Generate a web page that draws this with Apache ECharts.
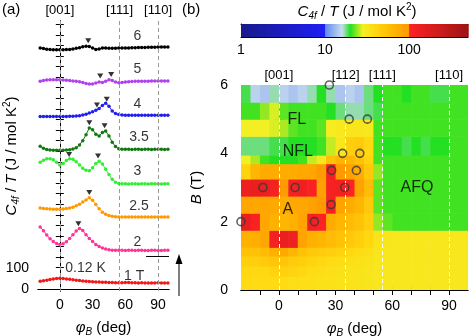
<!DOCTYPE html>
<html>
<head>
<meta charset="utf-8">
<script src="https://cdn.jsdelivr.net/npm/echarts@6/dist/echarts.min.js"></script>
<style>
  html, body { margin: 0; padding: 0; background: #fff; }
  #chart { width: 471px; height: 336px; }
</style>
</head>
<body>
<div id="chart"></div>
<script>
// ---- panel (a): C4f/T vs field angle, curves offset per field ----
const phiA = [-18,-15,-12,-9,-6,-3,0,3,6,9,12,15,18,21,24,27,30,33,36,39,42,45,48,51,54,57,60,63,66,69,72,75,78,81,84,87,90,93,96,99];
const c1T = [36,38,41,44,47,49,50,49,47,45, 43,41,39,37,36,35,34,33,32,31, 31,30,30,29,29,29,30,30,29,29, 28,29,28,28,28,28,29,28,28,28];
const c2T = [292,275,255,237,224,214,209,213,223,238, 256,273,285,276,256,238,224,210,200,193, 188,185,183,182,182,182,181,182,182,181, 182,182,181,181,182,182,181,181,182,182];
const c25T = [382,380,378,377,376,376,376,377,379,382, 386,392,400,410,420,430,418,398,378,362, 352,346,343,341,340,340,340,340,340,339, 339,340,340,339,339,339,340,340,339,339];
const c3T = [598,608,614,615,610,598,585,592,606,614, 612,600,585,570,560,558,572,592,603,590, 565,540,518,504,498,496,496,495,496,496, 495,496,496,495,496,496,496,495,496,496];
const c35T = [673,664,658,656,655,655,655,655,656,657, 660,667,680,700,728,760,752,730,722,738, 745,722,693,672,662,659,659,659,658,659, 659,658,659,659,658,659,659,659,658,659];
const c4T = [814,814,814,814,814,814,814,814,814,815, 815,816,818,821,825,830,836,843,852,866, 877,862,840,828,823,821,820,820,820,820, 820,820,820,820,820,820,820,820,820,820];
const c5T = [980,984,986,988,988,988,987,986,985,984, 982,980,978,975,970,967,968,972,977,975, 980,988,984,977,973,975,977,978,979,980, 980,981,981,981,982,982,982,982,982,982];
const c6T = [1137,1135,1132,1130,1129,1129,1129,1129,1130,1131, 1133,1136,1139,1143,1146,1145,1138,1131,1133,1138, 1137,1136,1136,1136,1137,1137,1138,1138,1139,1139, 1140,1140,1140,1141,1141,1141,1142,1142,1142,1142];
const curves = [c1T, c2T, c25T, c3T, c35T, c4T, c5T, c6T];
const fieldNames = ['1 T', '2', '2.5', '3', '3.5', '4', '5', '6'];
const fieldColors = ['#f01818', '#ff3399', '#ff9900', '#33ee33', '#127812', '#1f1fee', '#b040f0', '#000000'];
const fieldLabelPos = [[68, 62], [71, 223], [72.5, 389], [71, 555], [72.5, 716], [71, 872], [71, 1038], [71, 1194]];
const tempLabel = { text: '0.12 K', pos: [23.5, 100] };
const peakMarks = [[26, 1172], [37, 1005], [47, 1012], [34, 868], [43, 895], [27, 785], [41, 770], [8.5, 635], [35, 628], [27, 455], [17, 308]];
const scaleBar = [[79, 153], [100, 153]];
const dirAnglesA = [0, 54.7, 90];
const dirNamesA = ['[001]', '[111]', '[110]'];
const phiTicks = [0, 30, 60, 90];
const yLabelsA = [0, 100];

// ---- panel (b): colour map of C4f/T in the (phi, B) plane ----
const phiEdges = [-20,-15,-10,-5,0,5,10,15,20,25,30,35,40,45,50,55,60,65,70,75,80,85,90,95,100];
const bEdges = [0, 0.4, 0.7, 1.0, 1.25, 1.75, 2.25, 2.75, 3.25, 3.7, 3.95, 4.5, 5.0, 5.5, 6.0];
const heat = [
  [38,38,38,38,38,37,36,36,35,35,34,34,34,33,32,32,32,32,32,32,32,32,32,32],
  [40,40,40,42,44,42,40,38,37,36,35,34,34,33,32,32,32,32,32,32,32,32,32,32],
  [45,45,48,52,52,48,45,42,40,38,37,36,35,34,32,32,32,32,32,32,32,32,32,32],
  [55,55,60,70,78,65,55,50,48,45,42,40,38,36,33,32,32,32,32,32,32,32,32,32],
  [70,72,80,120,140,130,85,70,65,60,55,50,45,40,34,33,32,32,32,32,32,32,32,32],
  [140,110,80,70,65,70,85,120,100,75,65,60,55,45,24,22,21,21,21,21,21,21,21,21],
  [80,80,80,78,75,78,82,88,95,115,85,75,65,50,22,21,21,21,21,21,21,21,21,21],
  [130,140,135,115,95,115,125,110,90,115,120,100,85,60,22,21,21,21,21,21,21,21,21,21],
  [42,65,75,75,75,75,78,82,95,120,95,85,75,50,24,21,21,21,21,21,21,21,21,21],
  [28,25,21,20,20,20,21,26,32,55,65,65,55,42,21,21,21,21,21,21,21,21,21,21],
  [18,18,18,19,19,20,20,20,21,26,32,45,48,40,21,20,20,19,20,19,20,20,21,21],
  [28,29,28,27,25,22,21,21,22,30,31,33,33,32,21,21,21,21,21,21,21,21,21,21],
  [21,21,24,27,22,21,21,21,21,20,18,17,17,18,19,21,21,21,21,21,21,21,21,21],
  [19,15,14,17,15,14,15,17,20,17,14,15,14,18,20,21,21,20,21,21,19,19,21,21]
];
const transitions = [[26.7, 6], [37.2, 5], [46.8, 5], [33.7, 4], [42.8, 4], [27.9, 3.5], [41, 3.5], [-8.4, 3], [8.6, 3], [34.9, 3], [27.6, 2.5], [-20, 2], [18.8, 2]];
const phaseNames = ['FL', 'NFL', 'A', 'AFQ'];
const phasePos = [[9.5, 5.0], [10, 4.05], [4.7, 2.34], [73, 3.0]];
const dirAnglesB = [0, 35.3, 54.7, 90];
const dirNamesB = ['[001]', '[112]', '[111]', '[110]'];
const bTicks = [0, 2, 4, 6];
const cbLabels = [1, 10, 100];
const cbMinor = [2,3,4,5,6,7,8,9,10,20,30,40,50,60,70,80,90,100,200,300,400];

// colour scale (log10 of C/T -> colour)
const cmapT = [0, 0.999, 1.0, 1.2, 1.3, 1.45, 1.6, 1.85, 1.999, 2.0, 2.7];
const cmapC = ['#1a1a8c', '#1f1ff5', '#5c88f0', '#c8dcee', '#22e022', '#f4f024', '#ffd810', '#ffb000', '#ff9800', '#ff2222', '#9c1616'];

const font = 'Liberation Sans, Arial, sans-serif';

function hexRgb(h) {
  return [parseInt(h.slice(1, 3), 16), parseInt(h.slice(3, 5), 16), parseInt(h.slice(5, 7), 16)];
}
function cmap(v) {
  const t = Math.log10(v);
  let i = 0;
  while (i < cmapT.length - 2 && t > cmapT[i + 1]) i++;
  const f = Math.min(1, Math.max(0, (t - cmapT[i]) / (cmapT[i + 1] - cmapT[i])));
  const a = hexRgb(cmapC[i]), b = hexRgb(cmapC[i + 1]);
  const c = a.map((x, k) => Math.round(x + (b[k] - x) * f));
  return 'rgb(' + c.join(',') + ')';
}

// heatmap cells [x0, x1, y0, y1, value]
const cells = [];
heat.forEach((row, r) => {
  row.forEach((v, c) => {
    cells.push([phiEdges[c], phiEdges[c + 1], bEdges[r], bEdges[r + 1], v]);
  });
});

// colour bar ramp
const cbSteps = [];
for (let t = 0; t < Math.log10(500); t += 0.004) {
  cbSteps.push([Math.pow(10, t), Math.pow(10, Math.min(t + 0.004, Math.log10(500)))]);
}

const tickA = [];
for (let v = 0; v <= 1250; v += 50) tickA.push(v);

const rich = {
  i: { fontStyle: 'italic', fontSize: 15, fontFamily: font, color: '#000' },
  n: { fontSize: 15, fontFamily: font, color: '#000' },
  sub: { fontStyle: 'italic', fontSize: 10, fontFamily: font, color: '#000', padding: [9, 0, 0, 0] },
  sup: { fontSize: 10, fontFamily: font, color: '#000', padding: [0, 0, 9, 0] }
};
const phiName = '{i|φ}{sub|B}{n| (deg)}';
const cName = '{i|C}{sub|4f}{n| / }{i|T}{n| (J / mol K}{sup|2}{n|)}';

const chart = echarts.init(document.getElementById('chart'));

const axisBase = {
  axisLine: { show: true, lineStyle: { color: '#000', width: 1 } },
  splitLine: { show: false },
  axisLabel: { color: '#000', fontSize: 14, fontFamily: font },
  nameTextStyle: { rich: rich },
  nameMoveOverlap: false
};

const option = {
  animation: false,
  backgroundColor: '#fff',
  grid: [
    { left: 38, top: 21, width: 131, height: 270, outerBoundsMode: 'none' },
    { left: 241, top: 85, width: 227, height: 205, outerBoundsMode: 'none' },
    { left: 241, top: 24, width: 227, height: 13, outerBoundsMode: 'none' }
  ],
  xAxis: [
    Object.assign({}, axisBase, {
      gridIndex: 0, type: 'value', min: -20, max: 100, position: 'bottom',
      axisTick: { show: false },
      axisLabel: { color: '#000', fontSize: 14, fontFamily: font, margin: 7, customValues: phiTicks },
      name: phiName, nameLocation: 'middle', nameGap: 27
    }),
    Object.assign({}, axisBase, {
      gridIndex: 0, type: 'value', min: -20, max: 100, position: 'top',
      axisTick: { show: false },
      axisLabel: {
        color: '#000', fontSize: 13, fontFamily: font, margin: 4, customValues: dirAnglesA,
        formatter: v => dirNamesA[dirAnglesA.findIndex(a => Math.abs(a - v) < 0.01)]
      }
    }),
    Object.assign({}, axisBase, {
      gridIndex: 1, type: 'value', min: -20, max: 100, position: 'bottom',
      axisTick: { show: true, inside: true, length: 5, lineStyle: { color: '#000' }, customValues: [-10, 0, 10, 20, 30, 40, 50, 60, 70, 80, 90] },
      axisLabel: { color: '#000', fontSize: 14, fontFamily: font, margin: 9, customValues: phiTicks },
      name: phiName, nameLocation: 'middle', nameGap: 29
    }),
    Object.assign({}, axisBase, {
      gridIndex: 1, type: 'value', min: -20, max: 100, position: 'top',
      axisTick: { show: true, inside: true, length: 5, lineStyle: { color: '#000' }, customValues: [-10, 0, 10, 20, 30, 40, 50, 60, 70, 80, 90] },
      axisLabel: {
        color: '#000', fontSize: 13, fontFamily: font, margin: 3, customValues: dirAnglesB,
        formatter: v => dirNamesB[dirAnglesB.findIndex(a => Math.abs(a - v) < 0.01)]
      }
    }),
    Object.assign({}, axisBase, {
      gridIndex: 2, type: 'log', logBase: 10, min: 1, max: 500, position: 'bottom',
      axisTick: { show: true, inside: true, length: 3, lineStyle: { color: '#000' }, customValues: cbMinor },
      axisLabel: { color: '#000', fontSize: 14, fontFamily: font, margin: 6, customValues: cbLabels }
    }),
    Object.assign({}, axisBase, {
      gridIndex: 2, type: 'log', logBase: 10, min: 1, max: 500, position: 'top',
      axisTick: { show: true, inside: true, length: 3, lineStyle: { color: '#000' }, customValues: cbMinor },
      axisLabel: { show: false }
    })
  ],
  yAxis: [
    Object.assign({}, axisBase, {
      gridIndex: 0, type: 'value', min: -10, max: 1265, position: 'left',
      axisTick: { show: true, inside: true, length: 4, lineStyle: { color: '#000' }, customValues: tickA },
      axisLabel: { color: '#000', fontSize: 14, fontFamily: font, margin: 9, customValues: yLabelsA },
      name: cName, nameLocation: 'middle', nameRotate: 90, nameGap: 17
    }),
    Object.assign({}, axisBase, {
      gridIndex: 0, type: 'value', min: -10, max: 1265, position: 'right',
      axisTick: { show: true, inside: true, length: 4, lineStyle: { color: '#000' }, customValues: tickA },
      axisLabel: { show: false }
    }),
    Object.assign({}, axisBase, {
      gridIndex: 1, type: 'value', min: 0, max: 6, position: 'left',
      axisTick: { show: true, inside: true, length: 5, lineStyle: { color: '#000' }, customValues: [0, 1, 2, 3, 4, 5, 6] },
      axisLabel: { color: '#000', fontSize: 14, fontFamily: font, margin: 13, customValues: bTicks },
      name: '{i|B}{n| (T)}', nameLocation: 'middle', nameRotate: 90, nameGap: 37
    }),
    Object.assign({}, axisBase, {
      gridIndex: 1, type: 'value', min: 0, max: 6, position: 'right',
      axisTick: { show: true, inside: true, length: 5, lineStyle: { color: '#000' }, customValues: [0, 1, 2, 3, 4, 5, 6] },
      axisLabel: { show: false }
    }),
    Object.assign({}, axisBase, {
      gridIndex: 2, type: 'value', min: 0, max: 1, position: 'left',
      axisTick: { show: false }, axisLabel: { show: false }
    })
  ],
  series: [
    ...curves.map((d, k) => ({
      type: 'line', xAxisIndex: 0, yAxisIndex: 0,
      data: phiA.map((x, j) => [x, d[j]]),
      symbol: 'circle', symbolSize: 3.5, showSymbol: true,
      lineStyle: { color: fieldColors[k], width: 1 },
      itemStyle: { color: fieldColors[k] },
      z: 4
    })),
    {
      type: 'line', xAxisIndex: 0, yAxisIndex: 0, data: scaleBar,
      symbol: 'none', lineStyle: { color: '#000', width: 1 }, z: 3,
      markLine: {
        silent: true, symbol: 'none', label: { show: false },
        lineStyle: { type: [4, 3], color: '#999', width: 1 },
        data: dirAnglesA.map(a => ({ xAxis: a }))
      }
    },
    {
      type: 'scatter', xAxisIndex: 0, yAxisIndex: 0, data: peakMarks,
      symbol: 'triangle', symbolRotate: 180, symbolSize: [6, 5],
      itemStyle: { color: '#000' }, z: 5
    },
    {
      type: 'scatter', xAxisIndex: 0, yAxisIndex: 0,
      data: fieldNames.map((n, k) => ({ name: n, value: fieldLabelPos[k] })).concat([{ name: tempLabel.text, value: tempLabel.pos }]),
      symbolSize: 1, itemStyle: { color: 'transparent' },
      label: { show: true, position: 'inside', formatter: p => p.name, color: '#000', fontSize: 14, fontFamily: font },
      z: 5
    },
    {
      type: 'custom', xAxisIndex: 2, yAxisIndex: 2, data: cells, clip: true,
      encode: { x: [0, 1], y: [2, 3] },
      renderItem: (params, api) => {
        const p0 = api.coord([api.value(0), api.value(3)]);
        const p1 = api.coord([api.value(1), api.value(2)]);
        return {
          type: 'rect',
          shape: { x: p0[0], y: p0[1], width: p1[0] - p0[0] + 0.6, height: p1[1] - p0[1] + 0.6 },
          style: { fill: cmap(api.value(4)) }
        };
      },
      z: 1
    },
    {
      type: 'scatter', xAxisIndex: 2, yAxisIndex: 2, data: transitions,
      symbol: 'circle', symbolSize: 8,
      itemStyle: { color: 'transparent', borderColor: '#3a3a3a', borderWidth: 1.6 },
      z: 6,
      markLine: {
        silent: true, symbol: 'none', label: { show: false },
        lineStyle: { type: [4, 3], color: '#fff', width: 1 },
        data: dirAnglesB.map(a => ({ xAxis: a }))
      }
    },
    {
      type: 'scatter', xAxisIndex: 2, yAxisIndex: 2,
      data: phaseNames.map((n, k) => ({ name: n, value: phasePos[k] })),
      symbolSize: 1, itemStyle: { color: 'transparent' },
      label: { show: true, position: 'inside', formatter: p => p.name, color: '#000', fontSize: 16, fontFamily: font },
      z: 7
    },
    {
      type: 'custom', xAxisIndex: 4, yAxisIndex: 4, data: cbSteps,
      encode: { x: [0, 1] },
      renderItem: (params, api) => {
        const lo = api.value(0), hi = api.value(1);
        const p0 = api.coord([lo, 1]);
        const p1 = api.coord([hi, 0]);
        return {
          type: 'rect',
          shape: { x: p0[0], y: p0[1], width: p1[0] - p0[0] + 0.6, height: p1[1] - p0[1] },
          style: { fill: cmap(Math.sqrt(lo * hi)) }
        };
      },
      z: 1
    }
  ],
  graphic: [
    { type: 'text', left: 2, top: 2, style: { text: '(a)', fontSize: 15, fontFamily: font, fill: '#000' } },
    { type: 'text', left: 182, top: 2, style: { text: '(b)', fontSize: 15, fontFamily: font, fill: '#000' } },
    {
      type: 'text', x: 357, y: 12,
      style: { text: cName, rich: rich, align: 'center', verticalAlign: 'middle' }
    },
    { type: 'line', shape: { x1: 179, y1: 296, x2: 179, y2: 262 }, style: { stroke: '#000', lineWidth: 1 } },
    { type: 'polygon', shape: { points: [[175.5, 264], [182.5, 264], [179, 254]] }, style: { fill: '#000' } }
  ]
};

chart.setOption(option);
</script>
</body>
</html>
